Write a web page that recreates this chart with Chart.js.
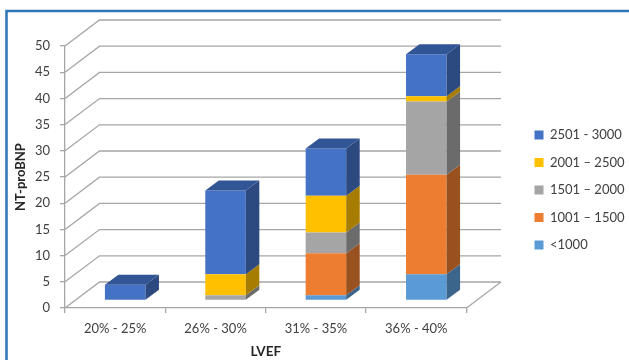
<!DOCTYPE html>
<html>
<head>
<meta charset="utf-8">
<style>
  html, body { margin: 0; padding: 0; background: #fff; }
  #wrap { width: 629px; height: 360px; }
</style>
<script src="https://cdn.jsdelivr.net/npm/chart.js@4"></script>
</head>
<body>
<div id="wrap"><canvas id="chart" width="629" height="360"></canvas></div>
<script>
const categories = ["20% - 25%", "26% - 30%", "31% - 35%", "36% - 40%"];
const under1000 = [0, 0, 1, 5];
const from1001 = [0, 0, 8, 19];
const from1501 = [0, 1, 4, 14];
const from2001 = [0, 4, 7, 1];
const from2501 = [3, 16, 9, 8];

// front, side and top colour of each stacked band, bottom band first
const bands = [
  { label: "<1000", data: under1000, front: "#5B9BD5", side: "#3B658B" },
  { label: "1001 – 1500", data: from1001, front: "#ED7D31", side: "#9A5120" },
  { label: "1501 – 2000", data: from1501, front: "#A5A5A5", side: "#6B6B6B" },
  { label: "2001 – 2500", data: from2001, front: "#FFC000", side: "#A67D00" },
  { label: "2501 - 3000", data: from2501, front: "#4472C4", side: "#2C4A80", top: "#325596" }
];

const gridColor = "#A6A6A6";
const textColor = "#404040";
const fontFamily = "Lato, 'Open Sans', sans-serif";

// depth of the whole floor, depth of one bar, and how far bars sit from the front edge
const floorDepth = { x: 34.5, y: 26 };
const barDepth = { x: 13.5, y: 10 };
const barShift = { x: 10, y: 7.5 };

const box3d = {
  id: "box3d",
  beforeDraw(chart) {
    const ctx = chart.ctx;
    ctx.save();
    ctx.strokeStyle = "#2E75B6";
    ctx.lineWidth = 2.5;
    ctx.beginPath();
    ctx.moveTo(6.5, 360);
    ctx.lineTo(6.5, 11);
    ctx.lineTo(629, 11);
    ctx.stroke();
    ctx.restore();
  },
  beforeDatasetsDraw(chart) {
    const ctx = chart.ctx;
    const area = chart.chartArea;
    const y = chart.scales.y;
    ctx.save();
    ctx.strokeStyle = gridColor;
    ctx.lineWidth = 1.3;
    ctx.beginPath();
    y.ticks.forEach(t => {
      const py = y.getPixelForValue(t.value);
      ctx.moveTo(area.left, py);
      ctx.lineTo(area.left + floorDepth.x, py - floorDepth.y);
      ctx.lineTo(area.right + floorDepth.x, py - floorDepth.y);
    });
    ctx.moveTo(area.right, area.bottom);
    ctx.lineTo(area.right + floorDepth.x, area.bottom - floorDepth.y);
    ctx.stroke();
    ctx.restore();

    // bars stand a little behind the front edge of the floor
    ctx.save();
    ctx.translate(barShift.x, -barShift.y);
  },
  afterDatasetsDraw(chart) {
    const ctx = chart.ctx;
    categories.forEach((c, i) => {
      let topBar = null;
      let topBand = null;
      bands.forEach((band, b) => {
        if (!band.data[i]) return;
        const bar = chart.getDatasetMeta(b).data[i];
        const right = bar.x + bar.width / 2;
        ctx.fillStyle = band.side;
        ctx.beginPath();
        ctx.moveTo(right, bar.base);
        ctx.lineTo(right + barDepth.x, bar.base - barDepth.y);
        ctx.lineTo(right + barDepth.x, bar.y - barDepth.y);
        ctx.lineTo(right, bar.y);
        ctx.closePath();
        ctx.fill();
        topBar = bar;
        topBand = band;
      });
      const left = topBar.x - topBar.width / 2;
      const right = topBar.x + topBar.width / 2;
      ctx.fillStyle = topBand.top;
      ctx.beginPath();
      ctx.moveTo(left, topBar.y);
      ctx.lineTo(right, topBar.y);
      ctx.lineTo(right + barDepth.x, topBar.y - barDepth.y);
      ctx.lineTo(left + barDepth.x, topBar.y - barDepth.y);
      ctx.closePath();
      ctx.fill();
    });
    ctx.restore();
  },
  afterLayout(chart) {
    // legend sits in the free space right of the floor
    const legend = chart.legend;
    legend.left = 520;
    legend.right = 629;
    legend.top = 190 - legend.height / 2;
    legend.bottom = legend.top + legend.height;
  }
};

new Chart(document.getElementById("chart"), {
  type: "bar",
  data: {
    labels: categories,
    datasets: bands.map(b => ({
      label: b.label,
      data: b.data,
      backgroundColor: b.front,
      borderWidth: 0,
      categoryPercentage: 0.404,
      barPercentage: 1
    }))
  },
  options: {
    responsive: false,
    animation: false,
    layout: { padding: { top: 46, right: 48, bottom: 0, left: 0 } },
    plugins: {
      tooltip: { enabled: false },
      legend: {
        position: "right",
        reverse: true,
        labels: {
          boxWidth: 9,
          boxHeight: 9,
          padding: 14.5,
          color: textColor,
          font: { family: fontFamily, size: 13 }
        }
      }
    },
    scales: {
      x: {
        stacked: true,
        grid: { drawOnChartArea: false, offset: true, tickLength: 5, color: gridColor, lineWidth: 1.3 },
        border: { color: gridColor, width: 1.3 },
        ticks: { color: textColor, font: { family: fontFamily, size: 13 }, padding: 8, maxRotation: 0 },
        title: { display: true, text: "LVEF", color: "#262626", font: { family: fontFamily, size: 13.5, weight: "bold" }, padding: { top: 8, bottom: 0 } },
        afterFit(scale) { scale.height = 52; }
      },
      y: {
        stacked: true,
        min: 0,
        max: 50,
        grid: { drawOnChartArea: false, tickLength: 5, color: gridColor, lineWidth: 1.3 },
        border: { color: gridColor, width: 1.3 },
        ticks: { stepSize: 5, color: textColor, font: { family: fontFamily, size: 13 }, padding: 10 },
        title: { display: true, text: "NT-proBNP", color: "#262626", font: { family: fontFamily, size: 13, weight: "bold" }, padding: { top: 13, bottom: 0 } },
        afterFit(scale) { scale.width = 65; }
      }
    }
  },
  plugins: [box3d]
});
</script>
</body>
</html>
